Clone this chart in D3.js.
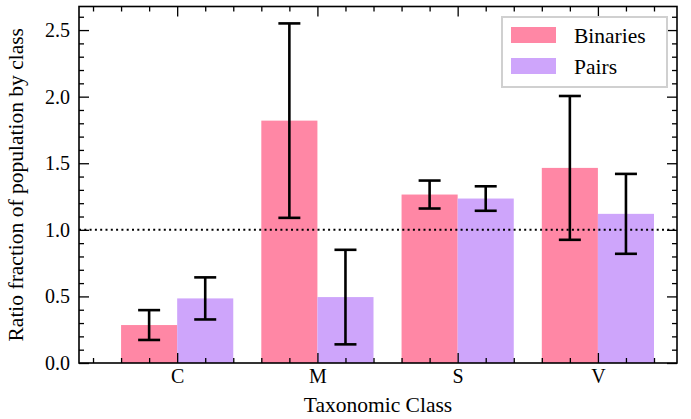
<!DOCTYPE html>
<html>
<head>
<meta charset="utf-8">
<script src="https://cdn.jsdelivr.net/npm/d3@7"></script>
<style>
  body { margin: 0; background: #fff; }
</style>
</head>
<body>
<div id="chart"></div>
<script>
// data
var classes = ["C", "M", "S", "V"];
var binaries = [0.285, 1.82, 1.265, 1.465];
var binariesErr = [0.112, 0.73, 0.105, 0.54];
var pairs = [0.485, 0.495, 1.235, 1.12];
var pairsErr = [0.158, 0.355, 0.092, 0.3];
var yTicks = [0.0, 0.5, 1.0, 1.5, 2.0, 2.5];

var FONT = "'Liberation Serif', 'Times New Roman', Times, serif";

var W = 691, H = 419;
var margin = {top: 6.5, right: 14, bottom: 56, left: 79};
var width = W - margin.left - margin.right,
    height = H - margin.top - margin.bottom;

var svg = d3.select("#chart").append("svg")
    .attr("width", W).attr("height", H)
    .style("font-family", FONT);
var g = svg.append("g")
    .attr("transform", "translate(" + margin.left + "," + margin.top + ")");

var x = d3.scaleLinear().domain([-0.7, 3.564]).range([0, width]);
var y = d3.scaleLinear().domain([0, 2.677]).range([height, 0]);
var bw = 0.4;

var series = [
  {name: "Binaries", vals: binaries, err: binariesErr, off: -bw / 2, color: "#ff87a5"},
  {name: "Pairs", vals: pairs, err: pairsErr, off: bw / 2, color: "#cea5fb"}
];

// bars
series.forEach(function(s) {
  g.selectAll(null).data(s.vals).enter().append("rect")
    .attr("x", function(d, i) { return x(i + s.off - bw / 2); })
    .attr("width", x(bw) - x(0))
    .attr("y", function(d) { return y(d); })
    .attr("height", function(d) { return y(0) - y(d); })
    .style("fill", s.color);
});

// dotted reference line at 1
g.append("line")
  .attr("x1", 0).attr("x2", width)
  .attr("y1", y(1)).attr("y2", y(1))
  .style("stroke", "#000").style("stroke-width", 2)
  .style("stroke-dasharray", "2,3.3");

// error bars
var cap = 11;
series.forEach(function(s) {
  var eg = g.selectAll(null).data(s.vals).enter().append("g")
    .style("stroke", "#000").style("stroke-width", 2.6);
  eg.append("line")
    .attr("x1", function(d, i) { return x(i + s.off); })
    .attr("x2", function(d, i) { return x(i + s.off); })
    .attr("y1", function(d, i) { return y(d - s.err[i]); })
    .attr("y2", function(d, i) { return y(d + s.err[i]); });
  [-1, 1].forEach(function(sign) {
    eg.append("line")
      .attr("x1", function(d, i) { return x(i + s.off) - cap; })
      .attr("x2", function(d, i) { return x(i + s.off) + cap; })
      .attr("y1", function(d, i) { return y(d + sign * s.err[i]); })
      .attr("y2", function(d, i) { return y(d + sign * s.err[i]); });
  });
});

// axes, ticks inside on all four sides
var xMinor = d3.range(-0.6, 3.5, 0.2).map(function(v) { return Math.round(v * 10) / 10; })
  .filter(function(v) { return Math.abs(v - Math.round(v)) > 1e-6; });
var yMinor = d3.range(0, 27).map(function(v) { return v / 10; })
  .filter(function(v) { return Math.round(v * 10) % 5 !== 0; });

function styleAxis(sel) {
  sel.attr("font-family", null).attr("font-size", null);
  sel.select(".domain").remove();
  sel.selectAll("line").style("stroke", "#000").style("stroke-width", 1.3);
  sel.selectAll("text").style("font-family", FONT).style("font-size", "20px").style("fill", "#000");
}

var xb = g.append("g").attr("transform", "translate(0," + height + ")")
  .call(d3.axisBottom(x).tickValues([0, 1, 2, 3]).tickFormat(function(d) { return classes[d]; })
    .tickSizeInner(-10).tickSizeOuter(0).tickPadding(6));
styleAxis(xb);
var xbm = g.append("g").attr("transform", "translate(0," + height + ")")
  .call(d3.axisBottom(x).tickValues(xMinor).tickFormat("").tickSizeInner(-5).tickSizeOuter(0));
styleAxis(xbm);
var xt = g.append("g")
  .call(d3.axisTop(x).tickValues([0, 1, 2, 3]).tickFormat("").tickSizeInner(-10).tickSizeOuter(0));
styleAxis(xt);
var xtm = g.append("g")
  .call(d3.axisTop(x).tickValues(xMinor).tickFormat("").tickSizeInner(-5).tickSizeOuter(0));
styleAxis(xtm);

var yl = g.append("g")
  .call(d3.axisLeft(y).tickValues(yTicks).tickFormat(d3.format(".1f"))
    .tickSizeInner(-10).tickSizeOuter(0).tickPadding(9));
styleAxis(yl);
var ylm = g.append("g")
  .call(d3.axisLeft(y).tickValues(yMinor).tickFormat("").tickSizeInner(-5).tickSizeOuter(0));
styleAxis(ylm);
var yr = g.append("g").attr("transform", "translate(" + width + ",0)")
  .call(d3.axisRight(y).tickValues(yTicks).tickFormat("").tickSizeInner(-10).tickSizeOuter(0));
styleAxis(yr);
var yrm = g.append("g").attr("transform", "translate(" + width + ",0)")
  .call(d3.axisRight(y).tickValues(yMinor).tickFormat("").tickSizeInner(-5).tickSizeOuter(0));
styleAxis(yrm);

// frame
g.append("rect")
  .attr("width", width).attr("height", height)
  .style("fill", "none").style("stroke", "#000").style("stroke-width", 1.6);

// axis labels
svg.append("text")
  .attr("x", 378).attr("y", 411.5)
  .attr("text-anchor", "middle").style("font-size", "21.5px")
  .text("Taxonomic Class");
svg.append("text")
  .attr("transform", "translate(23," + (margin.top + height / 2) + ") rotate(-90)")
  .attr("text-anchor", "middle").style("font-size", "21.5px")
  .text("Ratio fraction of population by class");

// legend
var lg = svg.append("g").attr("transform", "translate(502,17)");
lg.append("rect").attr("width", 165).attr("height", 70)
  .style("fill", "#fff").style("stroke", "#d0d0d0").style("stroke-width", 2);
series.forEach(function(s, i) {
  lg.append("rect").attr("x", 9).attr("y", 10 + i * 31).attr("width", 45).attr("height", 16)
    .style("fill", s.color);
  lg.append("text").attr("x", 72).attr("y", 26 + i * 31)
    .style("font-size", "21.5px").text(s.name);
});
</script>
</body>
</html>
